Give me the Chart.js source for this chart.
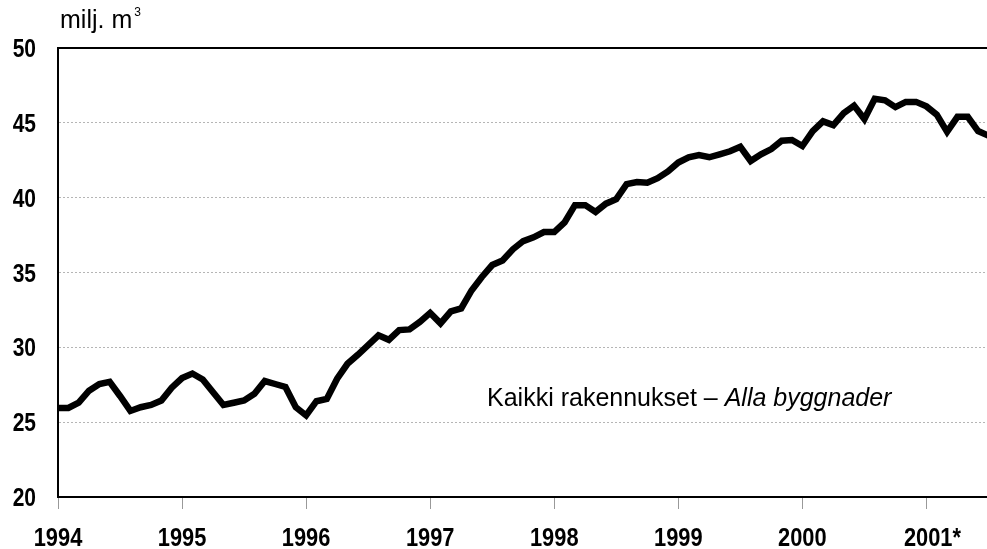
<!DOCTYPE html>
<html>
<head>
<meta charset="utf-8">
<script src="https://cdn.jsdelivr.net/npm/chart.js@4.4.1/dist/chart.umd.min.js"></script>
<style>
  html, body { margin: 0; padding: 0; background: #fff; }
  #wrap { width: 987px; height: 549px; }
</style>
</head>
<body>
<div id="wrap"><canvas id="myChart" width="987" height="549"></canvas></div>
<script>
// monthly values, Jan 1994 .. Jul 2001 (milj. m3)
const volumes = [
    25.95, 25.95, 26.3, 27.1, 27.55, 27.7, 26.75, 25.75, 26.0, 26.15, 26.45, 27.3,
    27.95, 28.25, 27.85, 27.0, 26.15, 26.3, 26.45, 26.9, 27.75, 27.55, 27.35, 26.0,
    25.45, 26.4, 26.55, 27.9, 28.9, 29.5, 30.15, 30.8, 30.5, 31.15, 31.2, 31.7,
    32.3, 31.6, 32.4, 32.6, 33.8, 34.7, 35.5, 35.8, 36.55, 37.1, 37.35, 37.7,
    37.7, 38.35, 39.5, 39.5, 39.05, 39.6, 39.9, 40.9, 41.05, 41.0, 41.3, 41.75,
    42.35, 42.7, 42.85, 42.7, 42.9, 43.1, 43.4, 42.45, 42.9, 43.25, 43.8, 43.85,
    43.45, 44.45, 45.1, 44.85, 45.65, 46.15, 45.25, 46.6, 46.5, 46.05, 46.4, 46.4,
    46.1, 45.55, 44.4, 45.4, 45.4, 44.45, 44.15
];
const years = ['1994', '1995', '1996', '1997', '1998', '1999', '2000', '2001*'];
const yTicks = [20, 25, 30, 35, 40, 45, 50];
const unitLabel = 'milj. m';
const seriesLabel = 'Kaikki rakennukset – ';
const seriesLabelSv = 'Alla byggnader';

const plain = "'Liberation Sans', Arial, sans-serif";

const points = volumes.map((v, i) => ({ x: i, y: v }));

// condensed text: squeeze a normal face horizontally
const narrowText = (ctx, text, x, y, align) => {
    ctx.save();
    ctx.translate(x, y);
    ctx.scale(0.84, 1);
    ctx.textAlign = align;
    ctx.fillText(text, 0, 0);
    ctx.restore();
};

const textPlugin = {
    id: 'texts',
    afterDraw(chart) {
        const { ctx, chartArea, scales } = chart;
        ctx.save();
        // top frame line
        ctx.strokeStyle = '#000';
        ctx.lineWidth = 2;
        const top = scales.y.getPixelForValue(50);
        ctx.beginPath();
        ctx.moveTo(chartArea.left - 1, top);
        ctx.lineTo(chartArea.right, top);
        ctx.stroke();

        ctx.fillStyle = '#000';
        ctx.textBaseline = 'alphabetic';

        // tick labels
        ctx.font = 'bold 25px ' + plain;
        scales.y.ticks.forEach(t => {
            narrowText(ctx, String(t.value), chartArea.left - 22, scales.y.getPixelForValue(t.value) + 9, 'right');
        });
        ctx.font = 'bold 26px ' + plain;
        scales.x.ticks.forEach(t => {
            const lab = years[Math.round(t.value / 12)];
            if (lab) narrowText(ctx, lab, scales.x.getPixelForValue(t.value) + (lab.endsWith('*') ? 6 : 0), chartArea.bottom + 49, 'center');
        });

        // unit label
        ctx.textAlign = 'left';
        ctx.font = '25px ' + plain;
        ctx.fillText(unitLabel, chartArea.left + 2, top - 20);
        const w = ctx.measureText(unitLabel).width;
        ctx.font = '12px ' + plain;
        ctx.fillText('3', chartArea.left + 4 + w, top - 32);

        // series label
        const lx = scales.x.getPixelForValue(41.5);
        const ly = scales.y.getPixelForValue(26.07);
        ctx.font = '25px ' + plain;
        ctx.fillText(seriesLabel, lx, ly);
        const w2 = ctx.measureText(seriesLabel).width;
        ctx.font = 'italic 25px ' + plain;
        ctx.fillText(seriesLabelSv, lx + w2, ly);
        ctx.restore();
    }
};

const ctx = document.getElementById('myChart').getContext('2d');
const myChart = new Chart(ctx, {
    type: 'line',
    data: {
        datasets: [{
            data: points,
            borderColor: '#000',
            borderWidth: 6.5,
            pointRadius: 0,
            tension: 0,
            fill: false
        }]
    },
    options: {
        responsive: false,
        animation: false,
        devicePixelRatio: 1,
        layout: { padding: { top: 48, right: 0, bottom: 0, left: 0 } },
        plugins: {
            legend: { display: false },
            tooltip: { enabled: false }
        },
        scales: {
            x: {
                type: 'linear',
                min: 0,
                max: 89.86,
                afterFit: s => { s.height = 52; },
                border: { display: true, color: '#000', width: 2 },
                grid: {
                    drawOnChartArea: false,
                    drawTicks: true,
                    tickLength: 12,
                    color: '#999',
                    lineWidth: 1
                },
                ticks: {
                    display: false,
                    stepSize: 12,
                    includeBounds: false,
                    autoSkip: false
                }
            },
            y: {
                min: 20,
                max: 50,
                afterFit: s => { s.width = 58; },
                afterBuildTicks: s => { s.ticks = yTicks.map(v => ({ value: v })); },
                border: { display: true, color: '#000', width: 2, dash: [2, 2] },
                grid: {
                    drawTicks: false,
                    color: c => (c.tick && (c.tick.value === 20 || c.tick.value === 50)) ? 'rgba(0,0,0,0)' : '#b5b5b5',
                    lineWidth: 1
                },
                ticks: { display: false }
            }
        }
    },
    plugins: [textPlugin]
});
</script>
</body>
</html>
